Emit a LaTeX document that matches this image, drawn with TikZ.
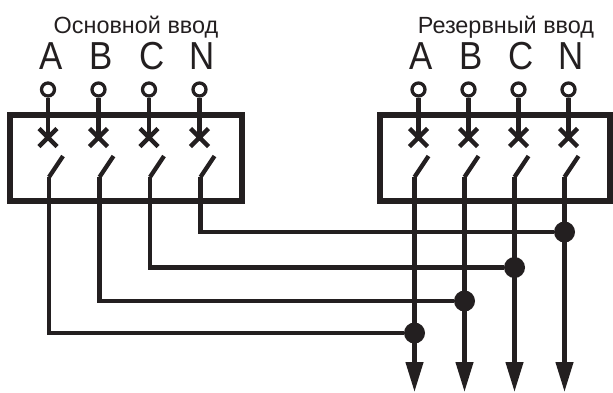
\documentclass[tikz,border=0pt]{standalone}
\usepackage{fontspec}
\setmainfont{Liberation Sans}
\usepackage{graphicx}
\usepackage{xcolor}
\usepackage{tikz}
\usetikzlibrary{arrows.meta}

\definecolor{ink}{HTML}{231F20}

\begin{document}
\begin{tikzpicture}[x=1bp, y=-1bp, color=ink,
  wire/.style={line width=4.3bp},
  box/.style={line width=6bp},
  term/.style={circle, draw, line width=3.3bp, inner sep=0pt, minimum size=13bp},
  dot/.style={circle, fill, inner sep=0pt, minimum size=21bp}]

  \useasboundingbox (0,0) rectangle (613,392);

  % Switch housings
  \draw[box] (10,114.7) rectangle (242,200.5);
  \draw[box] (380,114.7) rectangle (610,200.5);

  % Titles
  \node[anchor=base] (tm) at (136,33.5) {\fontsize{23.5}{26}\selectfont Основной ввод};
  \node[anchor=base] (tr) at (506,33.5) {\fontsize{23.5}{26}\selectfont Резервный ввод};

  % Poles: terminal, breaker cross, contact
  \foreach \b/\x/\d/\w in {m/48/1/50.5, r/418.5/-4/50} {
    \foreach \p [count=\i from 0] in {A, B, C, N} {
      \node[anchor=base] (l\b\p) at (\x+3+\w*\i,69.5) {\scalebox{1}[1.12]{\fontsize{35}{40}\selectfont \p}};
      \node[term] (t\b\p) at (\x+\w*\i,89.5) {};
      \coordinate (x\b\p) at (\x+\w*\i,137.5);
      \coordinate (s\b\p) at (\x+\d+\w*\i,177);
      \draw[wire] (t\b\p.south) -- (x\b\p);
      \draw[wire] (x\b\p) ++(-9,-9) -- ++(18,18) (x\b\p) ++(-9,9) -- ++(18,-18);
      \draw[wire] (s\b\p) -- ++(14,-21);  % open contact
    }
  }

  % Wiring to the outputs
  \foreach \p/\y in {A/333, B/301, C/267.5, N/232} {
    \node[dot] (d\p) at (sr\p |- 0,\y) {};
    \coordinate (e\p) at (sr\p |- 0,392);
    \draw[wire] (sm\p) |- (d\p);
    \draw[wire, -{Triangle[length=30bp, width=17bp]}] (sr\p) -- (e\p);
  }

\end{tikzpicture}
\end{document}
